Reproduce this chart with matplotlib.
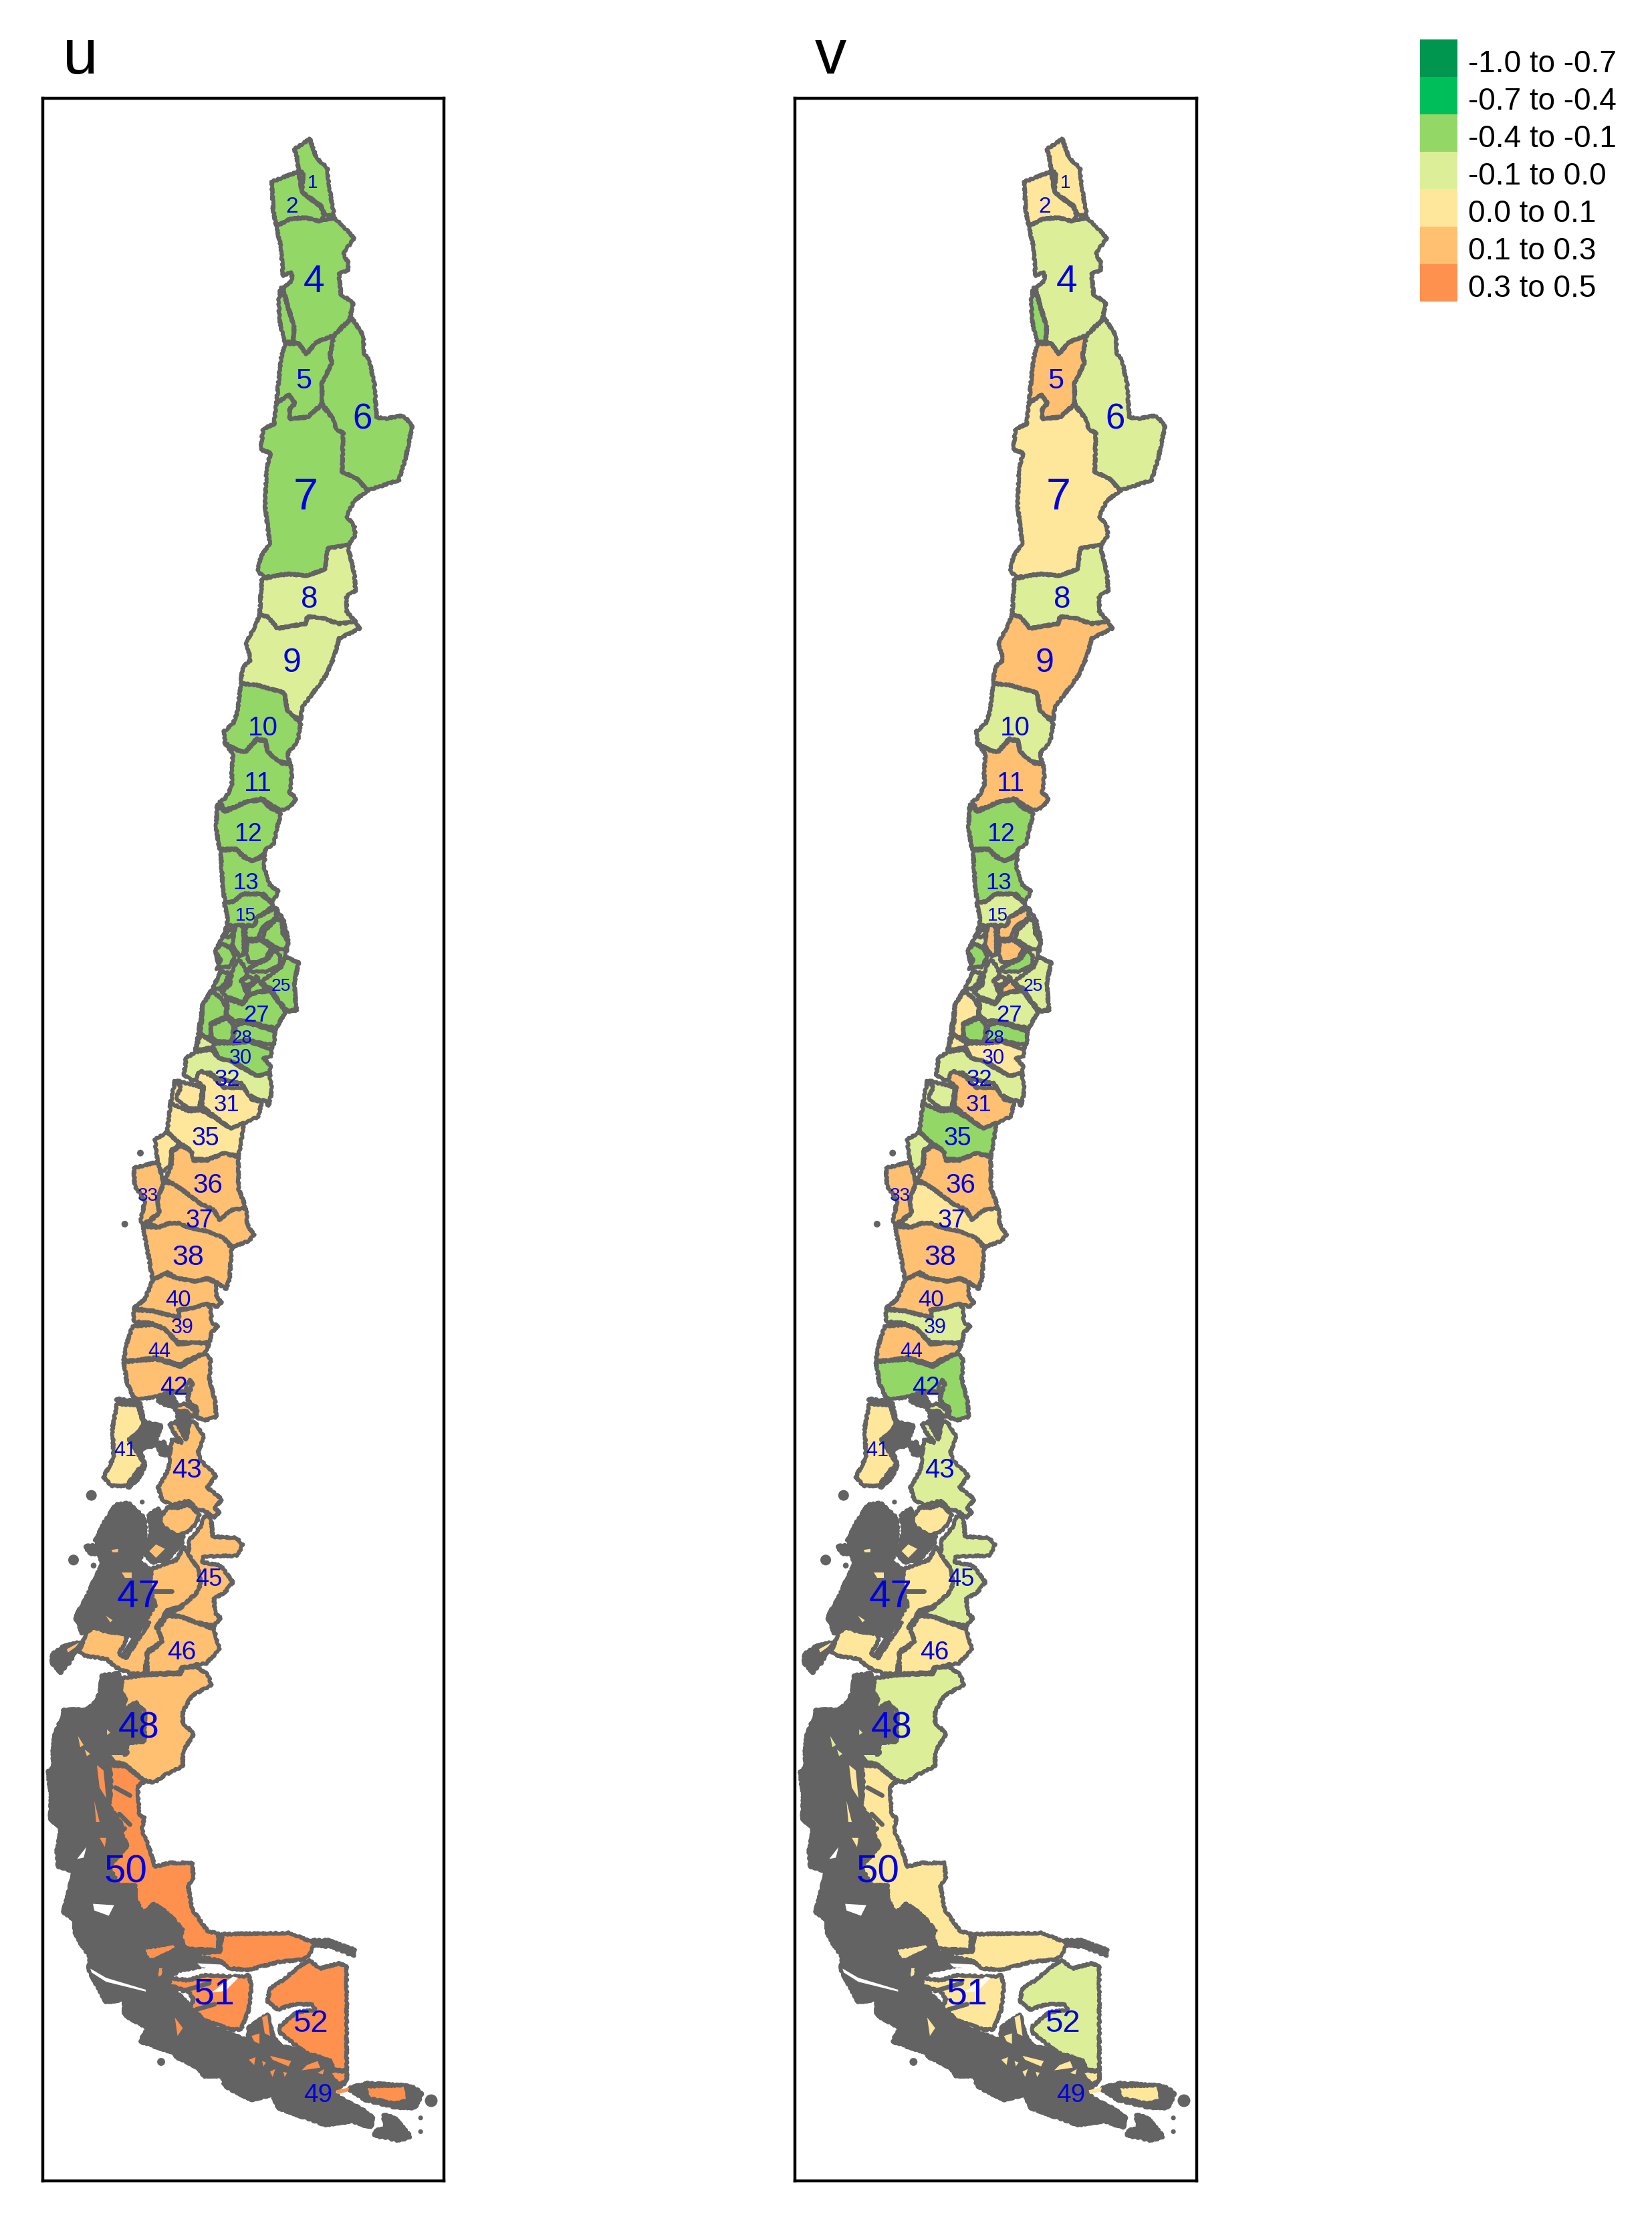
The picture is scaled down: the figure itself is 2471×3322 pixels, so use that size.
import matplotlib
matplotlib.use("Agg")
import matplotlib.pyplot as plt
from matplotlib.patches import Polygon, Circle, Rectangle

plt.rcParams['font.family'] = ['Liberation Sans', 'DejaVu Sans']

W, H = 2471, 3322
DPI = 100

# legend classes
class_labels = ["-1.0 to -0.7", "-0.7 to -0.4", "-0.4 to -0.1", "-0.1 to 0.0",
                "0.0 to 0.1", "0.1 to 0.3", "0.3 to 0.5"]
class_colors = ["#00964F", "#00BF5A", "#93D766", "#DDEE98", "#FEE79B", "#FFC071", "#FF914E"]
edge_gray = "#636363"

# class index per region, for both maps
u_class = {
    "base": 2, "base34": 4,
    "1": 2, "2": 2, "3": 2, "4": 2, "5": 2, "6": 2, "7": 2, "8": 3, "9": 3, "10": 2,
    "11": 2, "12": 2, "13": 2, "14": 2, "15": 2, "16": 2, "17": 2, "18": 2, "19": 2,
    "20": 2, "25": 2, "22": 2, "23": 2, "24": 2, "26": 2, "29": 2, "27": 2, "28": 2,
    "28b": 2, "21": 2, "30": 2, "30b": 3, "32": 3, "31": 4, "34": 4, "35": 4, "35b": 4,
    "33": 5, "36": 5, "37": 5, "38": 5, "40": 5, "39": 5, "44": 5, "42": 5, "42b": 5,
    "41": 4, "43": 5, "47a": 5, "45": 5, "47": 5, "46": 5, "48": 5, "50": 6, "51a": 6,
    "51b": 6, "51c": 6, "51d": 6, "52": 6, "49a": 6, "49b": 6,
}
v_class = {
    "base": 3, "base34": 3,
    "1": 4, "2": 4, "3": 2, "4": 3, "5": 5, "6": 3, "7": 4, "8": 3, "9": 5, "10": 3,
    "11": 5, "12": 2, "13": 2, "14": 5, "15": 3, "16": 3, "17": 5, "18": 3, "19": 5,
    "20": 2, "25": 3, "22": 2, "23": 3, "24": 3, "26": 4, "29": 5, "27": 3, "28": 2,
    "28b": 2, "21": 4, "30": 4, "30b": 4, "32": 3, "31": 5, "34": 3, "35": 2, "35b": 3,
    "33": 5, "36": 5, "37": 4, "38": 5, "40": 5, "39": 3, "44": 5, "42": 2, "42b": 3,
    "41": 4, "43": 3, "47a": 4, "45": 3, "47": 4, "46": 4, "48": 3, "50": 4, "51a": 4,
    "51b": 4, "51c": 4, "51d": 4, "52": 3, "49a": 4, "49b": 4,
}

# outlines: crop name -> origin and scale of the reading
crops = {"p": (0, 0, 1, 1), "a": (300, 180, 3, 1.96), "b": (250, 980, 3, 2.24),
         "c": (150, 1680, 3, 2.24), "d": (60, 2200, 3, 3), "e": (60, 2650, 2.53, 2.53),
         "g": (255, 1280, 3, 3)}

outlines = {
    "base": ("b", [(270,905),(490,850),(520,880),(545,960),(530,1010),(590,1030),(570,1100),(580,1190),(530,1195),(485,1255),(470,1320),(130,1320),(160,1170),(205,1115),(240,1060),(215,990),(245,950)]),
    "base34": ("g", [(20,1010),(140,1040),(130,1140),(60,1200),(0,1110)]),
    "1": ("a", [(420,85),(490,55),(520,110),(570,140),(575,190),(600,280),(555,275),(540,250),(455,210),(460,155),(440,145),(430,100)]),
    "2": ("a", [(320,180),(440,150),(455,210),(540,255),(555,285),(530,295),(470,285),(400,290),(340,310),(325,260)]),
    "4": ("a", [(340,310),(400,290),(470,285),(530,295),(600,285),(690,345),(640,390),(665,420),(660,440),(620,450),(630,510),(685,535),(670,580),(600,630),(520,650),(475,685),(440,655),(415,650),(420,605),(385,530),(370,490),(410,470),(410,445),(370,455),(360,370)]),
    "3": ("a", [(360,490),(370,500),(390,545),(420,605),(415,650),(378,650),(355,590),(350,530)]),
    "5": ("a", [(378,655),(440,655),(475,685),(520,650),(600,630),(580,690),(590,710),(545,770),(545,830),(480,870),(400,875),(400,845),(425,830),(395,805),(340,830),(360,700)]),
    "6": ("a", [(600,630),(680,580),(730,630),(735,685),(755,700),(780,770),(790,870),(830,875),(910,865),(950,895),(920,990),(890,1055),(750,1085),(700,1050),(630,1030),(635,915),(605,905),(600,880),(545,830),(545,770),(590,710),(580,690)]),
    "7": ("a", [(340,830),(395,805),(425,830),(400,845),(400,875),(480,870),(545,835),(600,880),(605,905),(640,915),(635,1030),(700,1050),(750,1085),(690,1115),(655,1160),(690,1190),(695,1215),(665,1245),(570,1255),(560,1315),(480,1335),(395,1330),(340,1335),(285,1340),(255,1320),(270,1280),(310,1240),(290,1130),(295,1020),(315,975),(270,965),(280,905),(330,890)]),
    "8": ("a", [(275,1345),(340,1335),(395,1330),(480,1335),(560,1315),(570,1255),(660,1245),(690,1330),(695,1380),(655,1395),(655,1440),(695,1470),(620,1475),(550,1460),(480,1455),(470,1475),(345,1490),(300,1455),(265,1450)]),
    "9": ("p", [(388,920),(400,922),(415,940),(457,933),(460,922),(483,925),(507,933),(532,930),(538,940),(507,955),(500,982),(487,1011),(467,1038),(452,1058),(450,1076),(437,1071),(430,1063),(425,1036),(383,1025),(360,1022),(363,998),(375,987),(368,960),(380,940)]),
    "10": ("b", [(330,95),(400,100),(525,125),(540,185),(600,230),(585,290),(540,330),(550,360),(520,360),(480,345),(450,320),(440,285),(400,280),(350,325),(320,320),(260,295),(255,255),(295,230),(315,190)]),
    "11": ("b", [(260,300),(320,320),(350,325),(400,285),(440,285),(450,320),(480,345),(520,365),(555,365),(560,400),(550,460),(580,480),(550,510),(510,520),(440,490),(430,480),(360,490),(290,510),(260,520),(235,490),(260,480),(290,440),(290,380),(295,330)]),
    "12": ("b", [(225,500),(260,525),(360,490),(430,485),(460,510),(510,530),(490,590),(480,630),(445,650),(430,670),(380,690),(340,670),(310,650),(250,650),(235,650),(220,580)]),
    "13": ("b", [(240,655),(310,650),(340,675),(385,690),(440,670),(435,710),(460,770),(500,790),(480,820),(470,825),(430,800),(340,800),(300,825),(260,830),(250,780)]),
    "15": ("b", [(255,830),(300,825),(340,800),(420,800),(470,830),(480,840),(420,870),(400,880),(395,905),(340,905),(270,905),(270,870)]),
    "14": ("b", [(400,880),(490,845),(490,880),(430,910),(410,950),(355,950),(350,910),(395,905)]),
    "16": ("b", [(250,940),(285,915),(300,930),(280,945)]),
    "17": ("b", [(310,905),(340,905),(345,960),(345,1000),(325,1010),(290,970),(300,930)]),
    "18": ("b", [(435,925),(490,885),(515,890),(520,935),(545,960),(530,990),(500,985),(430,950)]),
    "19": ("b", [(360,960),(420,955),(470,980),(440,1020),(395,1030),(365,1030),(355,1000)]),
    "20": ("b", [(365,1050),(400,1035),(450,1020),(480,985),(510,1010),(505,1040),(450,1060),(380,1060)]),
    "25": ("b", [(430,1090),(510,1045),(530,1010),(590,1030),(570,1100),(580,1190),(540,1190),(500,1160),(470,1120),(430,1100)]),
    "22": ("b", [(215,990),(245,965),(290,985),(305,1010),(280,1045),(240,1045),(220,1050),(240,1020)]),
    "23": ("b", [(240,1060),(280,1065),(260,1100),(235,1120),(205,1115)]),
    "24": ("b", [(320,1020),(345,1040),(360,1070),(340,1090),(345,1110),(360,1140),(340,1165),(270,1145),(245,1130),(280,1105),(295,1050)]),
    "26": ("b", [(330,1090),(370,1075),(390,1090),(370,1105),(345,1105)]),
    "29": ("b", [(400,1075),(430,1110),(455,1120),(400,1130),(365,1140),(365,1115),(395,1095)]),
    "27": ("b", [(265,1150),(340,1170),(365,1140),(400,1130),(465,1125),(530,1195),(490,1250),(400,1235),(350,1225),(300,1225),(265,1205),(270,1180)]),
    "28": ("b", [(195,1240),(270,1215),(300,1240),(290,1295),(220,1295),(200,1280)]),
    "28b": ("b", [(290,1295),(310,1240),(350,1230),(400,1240),(485,1260),(480,1305),(420,1300),(370,1290)]),
    "21": ("b", [(160,1170),(200,1125),(245,1150),(265,1180),(265,1210),(195,1235),(195,1280),(215,1295),(150,1270),(155,1220)]),
    "30": ("b", [(200,1310),(220,1300),(290,1300),(370,1295),(470,1320),(465,1345),(430,1350),(465,1375),(460,1400),(400,1410),(330,1375),(290,1360),(230,1350),(210,1320)]),
    "30b": ("b", [(125,1325),(150,1270),(215,1300),(200,1315)]),
    "32": ("b", [(85,1350),(125,1330),(200,1320),(230,1350),(290,1360),(330,1380),(400,1410),(460,1400),(470,1460),(455,1510),(435,1490),(410,1490),(360,1470),(335,1435),(240,1420),(195,1400),(150,1400),(130,1425),(100,1420),(75,1405)]),
    "31": ("g", [(120,985),(135,965),(190,990),(240,1040),(330,1040),(365,1095),(410,1105),(395,1170),(340,1195),(270,1225),(200,1170),(140,1125),(150,1040),(120,1010)]),
    "34": ("g", [(30,1010),(110,1030),(145,1040),(130,1135),(80,1135),(25,1090),(45,1040)]),
    "35": ("p", [(255,1650),(282,1662),(300,1660),(322,1672),(345,1688),(365,1680),(363,1693),(357,1729),(335,1725),(310,1734),(288,1734),(283,1718),(270,1711),(250,1693)]),
    "35b": ("c", [(245,55),(300,30),(360,70),(320,90),(315,145),(270,165),(255,120)]),
    "33": ("c", [(150,150),(260,130),(270,160),(285,200),(255,260),(265,300),(220,325),(190,340),(180,330),(200,260),(155,210)]),
    "36": ("c", [(290,190),(320,140),(320,95),(365,75),(410,95),(420,125),(480,125),(555,100),(620,115),(620,220),(655,285),(590,290),(535,325),(510,290),(450,270),(370,225),(320,200)]),
    "37": ("c", [(285,200),(320,200),(370,225),(450,270),(510,290),(535,325),(590,290),(655,285),(660,340),(690,375),(665,395),(590,415),(555,385),(470,360),(400,350),(350,335),(310,335),(260,350),(215,335),(265,300),(255,260)]),
    "38": ("c", [(190,345),(260,350),(310,335),(350,335),(400,350),(470,360),(555,385),(590,420),(580,520),(565,555),(515,530),(480,520),(430,530),(350,520),(300,500),(235,525),(215,440)]),
    "40": ("c", [(235,525),(290,505),(350,520),(430,530),(480,520),(520,535),(520,580),(545,600),(525,615),(480,605),(415,620),(350,625),(355,650),(290,640),(240,630),(150,620),(200,590)]),
    "39": ("c", [(150,625),(240,630),(290,640),(355,650),(350,625),(415,620),(480,605),(495,620),(500,670),(530,680),(500,700),(490,735),(420,735),(350,735),(290,690),(240,670),(150,665)]),
    "44": ("c", [(145,680),(240,675),(290,690),(350,740),(420,735),(490,740),(470,770),(400,790),(360,810),(250,785),(160,795),(105,795),(120,735)]),
    "42": ("c", [(105,800),(250,790),(360,815),(470,770),(495,790),(490,860),(515,930),(520,985),(470,995),(430,985),(435,955),(390,925),(415,870),(400,860),(380,900),(310,900),(260,915),(190,925),(150,920),(120,870)]),
    "42b": ("c", [(320,950),(380,940),(430,965),(415,985),(385,965),(345,965)]),
    "41": ("c", [(75,940),(170,945),(195,1010),(165,1040),(130,1060),(170,1110),(200,1140),(160,1170),(120,1215),(50,1215),(15,1185),(60,1120),(55,1020)]),
    "43": ("c", [(310,1010),(340,1000),(385,1060),(400,1000),(425,1000),(465,1050),(440,1100),(450,1130),(520,1180),(480,1220),(545,1260),(515,1290),(535,1305),(510,1320),(470,1300),(430,1290),(395,1265),(320,1280),(275,1260),(260,1220),(305,1160),(320,1060),(365,1070),(330,1035)]),
    "47a": ("d", [(540,210),(570,165),(620,165),(665,150),(715,195),(700,240),(660,275),(610,290),(545,245)]),
    "45": ("d", [(735,205),(765,205),(775,295),(880,300),(910,330),(885,380),(730,385),(730,410),(810,425),(865,500),(825,550),(780,570),(785,640),(810,660),(780,695),(700,680),(635,655),(570,640),(630,615),(700,550),(720,510),(710,440),(665,380),(670,310),(720,250)]),
    "47": ("d", [(500,440),(610,400),(645,340),(670,380),(710,440),(720,510),(700,550),(630,610),(570,625),(550,660),(520,700),(555,760),(480,810),(470,910),(410,910),(335,880),(300,845),(200,830),(175,815),(205,730),(240,700),(290,720),(370,730),(390,750),(355,820),(385,840),(490,680),(460,690),(520,600),(490,530)]),
    "46": ("d", [(570,650),(630,655),(700,680),(780,710),(805,800),(745,865),(700,870),(630,885),(630,905),(480,910),(480,820),(550,770),(530,710)]),
    "48": ("d", [(370,930),(480,915),(630,910),(640,885),(700,880),(750,910),(770,960),(680,1010),(640,1080),(640,1130),(690,1180),(640,1260),(640,1325),(560,1365),(510,1400),(460,1385),(390,1325),(310,1280),(390,1270),(390,1220),(470,1215),(470,1080),(430,1040),(365,1075),(385,1020),(360,990)]),
    "50": ("e", [(262,-25),(325,-20),(395,35),(370,55),(375,165),(395,175),(385,220),(410,280),(435,360),(490,345),(575,345),(580,400),(560,430),(575,520),(625,590),(635,605),(675,610),(675,675),(550,670),(530,620),(540,600),(490,540),(430,500),(390,535),(360,480),(360,430),(300,430),(260,360),(330,280),(300,220),(310,200),(260,130),(270,50)]),
    "51a": ("e", [(690,615),(940,610),(1020,640),(1040,650),(1020,690),(1000,710),(900,720),(790,750),(720,745),(680,715),(550,690),(680,680)]),
    "51b": ("e", [(490,780),(560,790),(620,770),(770,775),(790,770),(800,810),(790,900),(760,975),(720,975),(620,940),(570,890),(580,860),(560,830),(490,810)]),
    "51c": ("e", [(385,665),(440,660),(510,645),(520,670),(440,710),(410,715)]),
    "51d": ("e", [(440,740),(470,730),(470,770),(440,800)]),
    "52": ("e", [(1020,715),(1060,745),(1130,725),(1160,735),(1160,1130),(1110,1130),(1100,1095),(1000,1060),(910,990),(905,965),(970,910),(1040,900),(1030,880),(960,880),(900,900),(860,870),(870,820),(910,795),(990,730)]),
    "49a": ("e", [(1110,1130),(1160,1135),(1160,1170),(1130,1185),(1090,1140)]),
    "49b": ("e", [(1232,1190),(1385,1185),(1395,1245),(1340,1255),(1240,1235)]),
}

# unlabelled islands and channels, all drawn solid gray
gray_blobs = [
    ("c", [(190,1000),(270,1015),(240,1080),(180,1090),(200,1150),(165,1195),(125,1220),(100,1170),(130,1060)]),
    ("c", [(75,925),(175,935),(195,1000),(150,990)]),
    ("c", [(255,1075),(285,1070),(310,1110),(275,1110)]),
    ("c", [(345,970),(395,970),(400,1050),(375,1050),(350,1000)]),
    ("c", [(260,885),(310,900),(340,940),(300,945),(260,930)]),
    ("d", [(285,240),(340,155),(395,145),(470,215),(470,300),(445,410),(490,440),(510,480),(590,535),(570,560),(530,560),(525,600),(470,680),(410,740),(380,730),(290,720),(230,700),(190,730),(160,660),(180,620),(210,570),(240,500),(280,420),(250,310)]),
    ("d", [(205,340),(260,335),(290,370),(225,370)]),
    ("d", [(55,825),(105,790),(180,770),(130,860),(90,905),(55,860)]),
    ("d", [(490,200),(530,170),(540,240),(600,290),(640,290),(640,320),(570,395),(500,410),(465,360),(490,320),(500,260)]),
    ("d", [(280,920),(350,910),(365,990),(385,1030),(360,1080),(420,1050),(450,1090),(470,1210),(390,1220),(390,1280),(470,1390),(430,1420),(430,1500),(60,1500),(40,1380),(60,1320),(60,1240),(70,1170),(105,1100),(105,1075),(210,1070),(240,1050),(270,1000)]),
    ("e", [(30,0),(45,60),(40,180),(80,210),(65,300),(70,360),(130,375),(105,470),(90,530),(130,560),(135,620),(190,700),(185,750),(250,870),(320,860),(320,920),(410,970),(380,1020),(500,1060),(520,1080),(600,1120),(620,1150),(690,1150),(700,1190),(800,1240),(880,1220),(900,1270),(980,1300),(1080,1335),(1180,1320),(1250,1345),(1260,1310),(1220,1280),(1160,1250),(1100,1210),(1150,1180),(1160,1140),(1100,1100),(1000,1060),(910,1040),(880,1000),(860,920),(790,970),(790,1020),(620,955),(580,920),(560,880),(490,810),(480,780),(530,750),(700,720),(545,680),(500,530),(430,500),(360,470),(330,310),(360,160),(300,60),(240,-5)]),
    ("e", [(1030,640),(1090,640),(1190,675),(1185,695),(1100,660),(1040,655)]),
    ("e", [(1230,1180),(1400,1190),(1445,1215),(1420,1270),(1350,1270),(1230,1240),(1170,1200)]),
    ("e", [(1300,1300),(1340,1310),(1400,1380),(1360,1395),(1265,1375),(1270,1360),(1310,1350)]),
]
gray_islets = [("c", 180, 100, 15), ("c", 110, 338, 15), ("d", 230, 110, 24), ("d", 150, 400, 24),
               ("d", 458, 140, 11), ("d", 240, 425, 13), ("e", 1480, 1245, 24), ("e", 1440, 1310, 9),
               ("e", 1440, 1362, 9), ("e", 458, 1098, 15)]
# channels cut through the coloured land
gray_fjords = [
    ("e", [(285,60),(340,90)]), ("e", [(250,0),(262,90)]), ("e", [(300,160),(340,200)]),
    ("e", [(280,250),(320,215)]), ("d", [(510,540),(590,540)]), ("d", [(470,680),(370,830)]),
    ("d", [(430,1045),(460,1210)]), ("e", [(540,830),(640,800)]), ("e", [(590,900),(660,880)]),
]
# small coloured flecks that show through the gray, with the region whose colour they take
flecks = [
    ("d", "47", [(320,355),(350,350),(350,365),(325,365)]), ("d", "47", [(365,455),(410,455),(410,480),(380,480)]),
    ("d", "47", [(295,650),(325,670),(315,680)]), ("d", "47", [(120,800),(175,770),(160,790),(125,815)]),
    ("d", "47", [(520,330),(560,350),(520,390),(490,360)]),
    ("d", "48", [(170,1190),(195,1230),(180,1240)]), ("d", "48", [(200,1250),(225,1270),(210,1280)]),
    ("d", "48", [(300,1160),(315,1175),(300,1185)]), ("d", "48", [(320,1275),(370,1275),(380,1300),(340,1300)]),
    ("e", "50", [(215,-25),(240,-5),(250,100),(225,60)]), ("e", "50", [(205,110),(225,190),(212,190)]),
    ("e", "50", [(225,250),(250,250),(245,285)]), ("e", "51c", [(510,930),(540,970),(520,1000)]),
    ("e", "51c", [(800,1000),(830,990),(830,1030),(810,1020)]), ("e", "51c", [(840,930),(860,920),(870,1000),(850,990)]),
    ("e", "49a", [(1010,1110),(1050,1095),(1060,1120),(990,1130)]), ("e", "49a", [(870,1075),(950,1095),(940,1115),(880,1090)]),
    ("e", "49a", [(790,1090),(815,1080),(810,1110)]), ("e", "49a", [(840,1095),(855,1100),(845,1115)]),
    ("e", "49a", [(870,1135),(890,1125),(880,1155)]), ("e", "49a", [(920,1135),(935,1140),(925,1155)]),
    ("e", "49a", [(1050,1140),(1075,1125),(1070,1145)]), ("e", "49a", [(1120,1205),(1170,1195),(1165,1210),(1125,1220)]),
]
white_gaps = [
    ("e", [(200,500),(280,505),(260,545),(205,525)]), ("e", [(595,725),(690,730),(690,745),(610,740)]),
    ("e", [(650,835),(730,775),(750,780),(700,830)]), ("e", [(140,330),(175,285),(165,325)]),
    ("e", [(190,745),(250,780),(400,825),(400,832),(250,795),(195,760)]),
]

# region labels: text, x, y, size
label_text = ["1","2","4","5","6","7","8","9","10","11","12","13","15","25","27","28","30","32","31","35","36",
              "33","37","38","40","39","44","42","41","43","45","47","46","48","50","51","52","49"]
label_x = [468,437,470,454,542,457,463,437,393,386,371,368,367,420,384,362,360,340,339,307,311,
           221,298,281,267,273,238,260,187,280,312,207,272,208,188,321,464,476]
label_y = [269,305,417,565,623,740,892,987,1084,1167,1243,1316,1365,1470,1514,1548,1578,1610,1648,1698,1768,
           1784,1821,1876,1940,1981,2017,2071,2165,2194,2358,2384,2467,2580,2795,2978,3022,3129]
label_size = [20,24,41,31,38,48,33,36,29,29,27,25,20,19,25,20,22,25,25,27,29,
              20,27,31,25,22,22,27,22,29,26,42,28,40,42,40,34,28]


def to_px(crop, pts):
    x0, y0, sx, sy = crops[crop]
    return [(x0 + x / sx, y0 + y / sy) for x, y in pts]


def draw_map(ax, classes):
    sketch = (1.2, 7, 12)
    for crop, pts in gray_blobs:
        p = Polygon(to_px(crop, pts), fc=edge_gray, ec=edge_gray, lw=5, zorder=1, joinstyle="round")
        p.set_sketch_params(*sketch)
        ax.add_patch(p)
    for crop, x, y, r in gray_islets:
        x0, y0, sx, sy = crops[crop]
        ax.add_patch(Circle((x0 + x / sx, y0 + y / sy), r / sx, fc=edge_gray, ec="none", zorder=1))
    for crop, pts in white_gaps:
        ax.add_patch(Polygon(to_px(crop, pts), fc="white", ec="none", zorder=1.5))
    for name, (crop, pts) in outlines.items():
        p = Polygon(to_px(crop, pts), fc=class_colors[classes[name]], ec=edge_gray, lw=4.0,
                    zorder=2, joinstyle="round")
        p.set_sketch_params(*sketch)
        ax.add_patch(p)
    for crop, pts in white_gaps[2:3]:
        ax.add_patch(Polygon(to_px(crop, pts), fc="white", ec="none", zorder=2.5))
    for crop, pts in gray_fjords:
        xy = to_px(crop, pts)
        ax.plot([q[0] for q in xy], [q[1] for q in xy], color=edge_gray, lw=5, zorder=3,
                solid_capstyle="round")
    for crop, name, pts in flecks:
        ax.add_patch(Polygon(to_px(crop, pts), fc=class_colors[classes[name]], ec="none", zorder=4))
    for t, x, y, s in zip(label_text, label_x, label_y, label_size):
        ax.text(x, y + 5, t, color="#0000E0", fontsize=s, ha="center", va="center", zorder=5)
    ax.set_xlim(64, 664)
    ax.set_ylim(3262, 147)
    ax.set_xticks([])
    ax.set_yticks([])
    for sp in ax.spines.values():
        sp.set_linewidth(3.2)
        sp.set_color("black")


fig = plt.figure(figsize=(W / DPI, H / DPI), dpi=DPI)


def px_axes(x0, y0, x1, y1):
    return fig.add_axes([x0 / W, 1 - y1 / H, (x1 - x0) / W, (y1 - y0) / H])


ax_u = px_axes(64, 147, 664, 3262)
ax_v = px_axes(1189, 147, 1790, 3262)
draw_map(ax_u, u_class)
draw_map(ax_v, v_class)

# titles and legend sit in a full figure overlay
over = fig.add_axes([0, 0, 1, 1], facecolor="none")
over.set_xlim(0, W)
over.set_ylim(H, 0)
over.axis("off")
over.text(94, 110, "u", fontsize=68, ha="left", va="baseline")
over.text(1219, 110, "v", fontsize=68, ha="left", va="baseline")
for i, (lab, col) in enumerate(zip(class_labels, class_colors)):
    over.add_patch(Rectangle((2124, 59 + i * 56), 56, 56, fc=col, ec="none"))
    over.text(2196, 59 + i * 56 + 37, lab, fontsize=33, ha="left", va="center")

fig.savefig("out.png", dpi=DPI, facecolor="white")
